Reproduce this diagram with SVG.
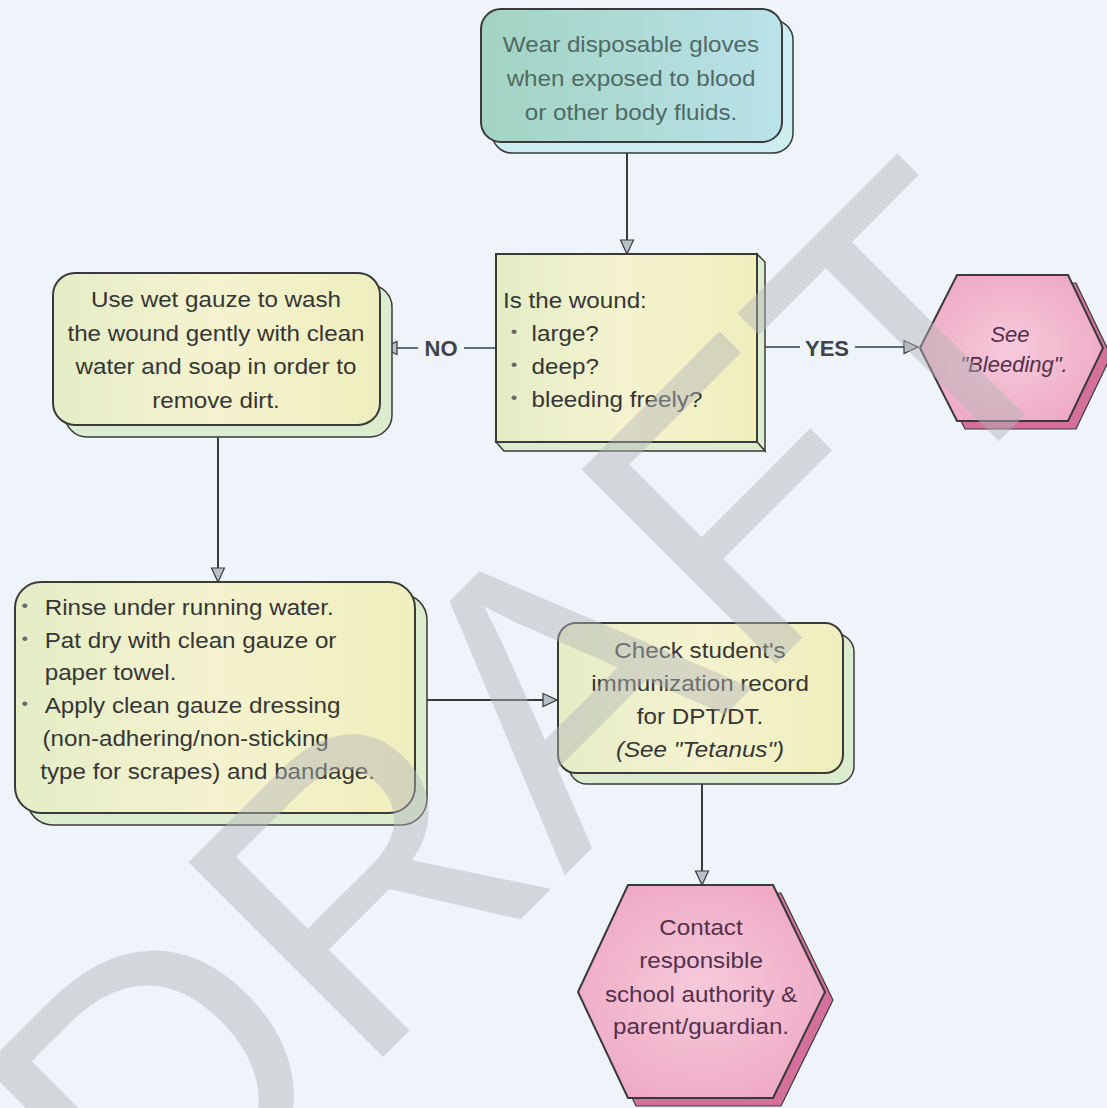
<svg xmlns="http://www.w3.org/2000/svg" width="1107" height="1108" viewBox="0 0 1107 1108">
  <defs>
    <linearGradient id="gY" x1="0" y1="0" x2="1" y2="0">
      <stop offset="0" stop-color="#e4edc6"/>
      <stop offset="0.5" stop-color="#f5f3cf"/>
      <stop offset="1" stop-color="#efeebd"/>
    </linearGradient>
    <linearGradient id="gT" x1="0" y1="0" x2="1" y2="0">
      <stop offset="0" stop-color="#a2d3c2"/>
      <stop offset="1" stop-color="#bae2ea"/>
    </linearGradient>
    <radialGradient id="gP" cx="0.5" cy="0.5" r="0.6">
      <stop offset="0" stop-color="#f6cadb"/>
      <stop offset="1" stop-color="#eea8c3"/>
    </radialGradient>
    <marker id="arr" viewBox="0 0 16 16" refX="15" refY="8" markerWidth="16" markerHeight="16" orient="auto" markerUnits="userSpaceOnUse">
      <path d="M1,1.5 L15,8 L1,14.5 Z" fill="#b8c0c8" stroke="#3a3a3a" stroke-width="1.2"/>
    </marker>
    <style>
      .box { stroke: #3a3a3a; stroke-width: 2; }
      .shadowY { fill: #dcedcf; stroke: #3a3a3a; stroke-width: 1.5; }
      .shadowT { fill: #cdeef0; stroke: #3a3a3a; stroke-width: 1.5; }
      .shadowP { fill: #d4709a; stroke: #3a3a3a; stroke-width: 1.2; }
      .t { font-family: "Liberation Sans", Arial, sans-serif; font-size: 22px; fill: #363636; }
      .c { text-anchor: middle; }
      .teal { fill: #506a64; }
      .pink { fill: #55304c; }
      .it { font-style: italic; }
      .bul { font-size: 17px; fill: #6a6a6a; }
      .lbl { font-family: "Liberation Sans", Arial, sans-serif; font-size: 22px; font-weight: bold; fill: #3e4448; text-anchor: middle; }
      .wire { fill: none; stroke: #3a3a3a; stroke-width: 2; }
      .wireB { fill: none; stroke: #5d6d7a; stroke-width: 2; }
      .wm { font-family: "Liberation Sans", Arial, sans-serif; font-size: 400px; fill: #b4b6b8; opacity: 0.45; text-anchor: middle; }
    </style>
  </defs>

  <!-- paper -->
  <rect x="0" y="0" width="1107" height="1108" fill="#eef4fa"/>

  <!-- connectors -->
  <g id="connectors">
    <path class="wire" d="M627,142 V254" marker-end="url(#arr)"/>
    <path class="wireB" d="M496,348 H383" marker-end="url(#arr)"/>
    <path class="wireB" d="M765,347 H918" marker-end="url(#arr)"/>
    <path class="wire" d="M218,425 V582" marker-end="url(#arr)"/>
    <path class="wire" d="M415,700 H557" marker-end="url(#arr)"/>
    <path class="wire" d="M702,773 V885" marker-end="url(#arr)"/>
    <rect x="418" y="336" width="46" height="24" fill="#eef4fa"/>
    <text class="lbl" x="441" y="356">NO</text>
    <rect x="800" y="335" width="55" height="24" fill="#eef4fa"/>
    <text class="lbl" x="827" y="356">YES</text>
  </g>

  <!-- start: gloves -->
  <g id="node-gloves">
    <rect class="shadowT" x="492" y="20" width="301" height="133" rx="20"/>
    <rect class="box" x="481" y="9" width="301" height="133" rx="20" fill="url(#gT)"/>
    <g transform="translate(631,0) scale(1.1,1)">
      <text class="t c teal" x="0" y="52">Wear disposable gloves</text>
      <text class="t c teal" x="0" y="86">when exposed to blood</text>
      <text class="t c teal" x="0" y="120">or other body fluids.</text>
    </g>
  </g>

  <!-- decision: wound size -->
  <g id="node-wound">
    <polygon class="shadowY" points="757,254 765,262 765,451 757,442"/>
    <polygon class="shadowY" points="496,442 757,442 765,451 504,451"/>
    <rect class="box" x="496" y="254" width="261" height="188" fill="url(#gY)"/>
    <g transform="translate(503,0) scale(1.1,1)">
      <text class="t" x="0" y="308" fill="#2c2c2c">Is the wound:</text>
      <text class="t bul" x="7" y="337">•</text>
      <text class="t" x="26" y="341">large?</text>
      <text class="t bul" x="7" y="370">•</text>
      <text class="t" x="26" y="374">deep?</text>
      <text class="t bul" x="7" y="403">•</text>
      <text class="t" x="26" y="407">bleeding freely?</text>
    </g>
  </g>

  <!-- wash with gauze -->
  <g id="node-wash">
    <rect class="shadowY" x="65" y="285" width="327" height="152" rx="22"/>
    <rect class="box" x="53" y="273" width="327" height="152" rx="22" fill="url(#gY)"/>
    <g transform="translate(216,0) scale(1.1,1)">
      <text class="t c" x="0" y="307">Use wet gauze to wash</text>
      <text class="t c" x="0" y="341">the wound gently with clean</text>
      <text class="t c" x="0" y="374">water and soap in order to</text>
      <text class="t c" x="0" y="408">remove dirt.</text>
    </g>
  </g>

  <!-- see bleeding -->
  <g id="node-bleeding">
    <polygon class="shadowP" points="928,356 965,283 1076,283 1111,356 1076,429 965,429"/>
    <polygon class="box" points="920,348 957,275 1068,275 1103,348 1068,421 957,421" fill="url(#gP)"/>
    <text class="t c pink it" x="1010" y="342">See</text>
    <text class="t c pink it" x="1014" y="372">"Bleeding".</text>
  </g>

  <!-- rinse and dress -->
  <g id="node-rinse">
    <rect class="shadowY" x="27" y="594" width="400" height="231" rx="26"/>
    <rect class="box" x="15" y="582" width="400" height="231" rx="26" fill="url(#gY)"/>
    <g transform="translate(15,0) scale(1.1,1)">
      <text class="t bul" x="6" y="611">•</text>
      <text class="t" x="27" y="615">Rinse under running water.</text>
      <text class="t bul" x="6" y="644">•</text>
      <text class="t" x="27" y="648">Pat dry with clean gauze or</text>
      <text class="t" x="27" y="680">paper towel.</text>
      <text class="t bul" x="6" y="709">•</text>
      <text class="t" x="27" y="713">Apply clean gauze dressing</text>
      <text class="t" x="25" y="746">(non-adhering/non-sticking</text>
      <text class="t" x="23" y="779">type for scrapes) and bandage.</text>
    </g>
  </g>

  <!-- immunization check -->
  <g id="node-check">
    <rect class="shadowY" x="569" y="634" width="285" height="150" rx="18"/>
    <rect class="box" x="558" y="623" width="285" height="150" rx="18" fill="url(#gY)"/>
    <g transform="translate(700,0) scale(1.1,1)">
      <text class="t c" x="0" y="658">Check student's</text>
      <text class="t c" x="0" y="691">immunization record</text>
      <text class="t c" x="0" y="724">for DPT/DT.</text>
      <text class="t c it" x="0" y="757">(See "Tetanus")</text>
    </g>
  </g>

  <!-- contact authority -->
  <g id="node-contact">
    <polygon class="shadowP" points="586,1000 636,893 781,893 833,1000 781,1106 636,1106"/>
    <polygon class="box" points="578,992 628,885 773,885 825,992 773,1098 628,1098" fill="url(#gP)"/>
    <g transform="translate(701,0) scale(1.1,1)">
      <text class="t c pink" x="0" y="935">Contact</text>
      <text class="t c pink" x="0" y="968">responsible</text>
      <text class="t c pink" x="0" y="1002">school authority &amp;</text>
      <text class="t c pink" x="0" y="1034">parent/guardian.</text>
    </g>
  </g>

  <!-- watermark -->
  <g id="watermark">
    <text class="wm" x="0" y="0" transform="translate(627,813) rotate(-45)">DRAFT</text>
  </g>
</svg>
